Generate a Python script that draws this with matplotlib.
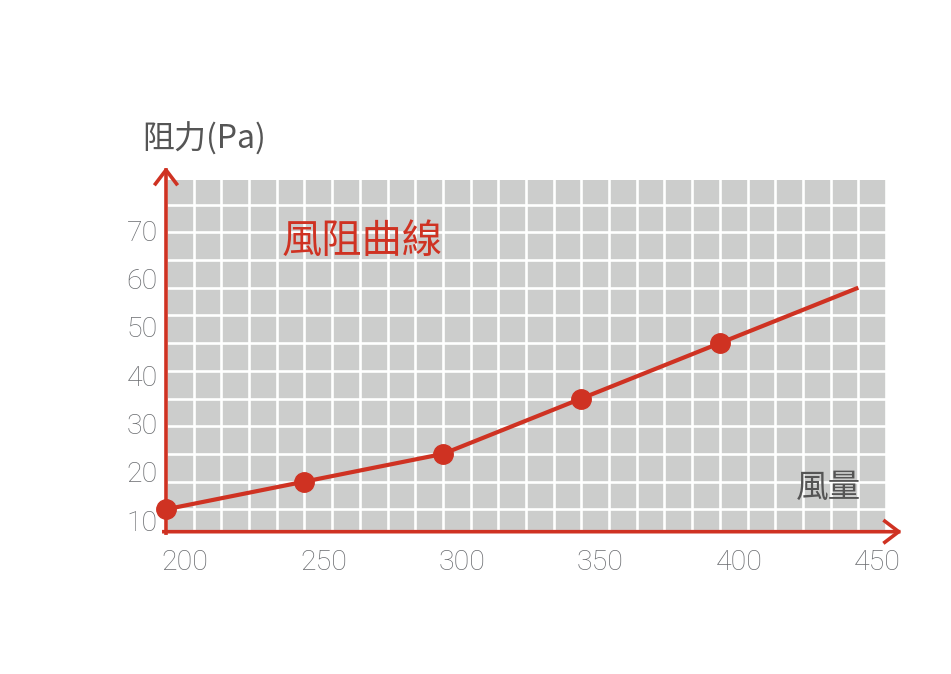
import matplotlib
matplotlib.use("Agg")
import matplotlib.pyplot as plt
from matplotlib.ticker import MultipleLocator
from matplotlib.transforms import ScaledTranslation

# ---- data ----
airflow = [200, 250, 300, 350, 400, 450]
resistance = [10, 15, 20, 30, 40, 50]
marker_count = 5
x_ticks = [200, 250, 300, 350, 400, 450]
y_ticks = [10, 20, 30, 40, 50, 60, 70]
title_text = "風阻曲線"
y_title = "阻力(Pa)"
x_title = "風量"

RED = "#cf3222"
GRAY_BG = "#cccdcc"
LABEL_GRAY = "#696b6f"
DARK = "#555555"
CJK = ["Noto Sans CJK TC", "DejaVu Sans"]
NUM = ["Roboto", "DejaVu Sans"]

W, H = 951, 674
fig = plt.figure(figsize=(W / 100, H / 100), dpi=100)
L, R, T, B = 166, 886, 180, 531.7
ax = fig.add_axes([L / W, 1 - B / H, (R - L) / W, (B - T) / H])
ax.set_facecolor(GRAY_BG)
ax.set_xlim(200, 460)
ax.set_ylim(5.96, 69.44)

# grid
ax.xaxis.set_minor_locator(MultipleLocator(10))
ax.yaxis.set_major_locator(MultipleLocator(5))
ax.set_xticks(x_ticks)
ax.grid(True, which="both", color="white", linewidth=1.9)
ax.set_axisbelow(True)
for s in ax.spines.values():
    s.set_visible(False)
ax.tick_params(axis="both", which="both", length=0)
ax.tick_params(axis="y", labelleft=False)
ax.tick_params(axis="x", labelsize=20.5, labelcolor=LABEL_GRAY, pad=12.5)
offset = ScaledTranslation(19 / 100, 0, fig.dpi_scale_trans)
for lab in ax.get_xticklabels():
    lab.set_fontfamily(NUM)
    lab.set_fontweight("light")
    lab.set_transform(lab.get_transform() + offset)

# y labels on a twin axis with its own scale
ax2 = ax.twinx()
ax2.set_ylim(7.58, 80.35)
ax2.set_yticks(y_ticks)
ax2.yaxis.tick_left()
for s in ax2.spines.values():
    s.set_visible(False)
ax2.tick_params(axis="y", length=0, pad=5.8, labelsize=20.5, labelcolor=LABEL_GRAY)
for lab in ax2.get_yticklabels():
    lab.set_fontfamily(NUM)
    lab.set_fontweight("light")

# axes arrows
arrow_kw = dict(arrowstyle="->,head_length=0.5,head_width=0.38", color=RED,
                lw=2.6, mutation_scale=20, shrinkA=0, shrinkB=0,
                capstyle="projecting")
ax.annotate("", xy=(0, 1.037), xytext=(0, -0.004), xycoords="axes fraction",
            textcoords="axes fraction", arrowprops=arrow_kw, zorder=5,
            annotation_clip=False)
ax.annotate("", xy=(1.0218, 0), xytext=(-0.003, 0), xycoords="axes fraction",
            textcoords="axes fraction", arrowprops=arrow_kw, zorder=5,
            annotation_clip=False)

# data line
ax.plot(airflow, resistance, color=RED, lw=3, zorder=6, clip_on=False,
        solid_capstyle="butt")
ax.plot(airflow[:marker_count], resistance[:marker_count], "o", color=RED,
        markersize=14, zorder=7, clip_on=False)

# texts
fig.text(204 / W, 1 - 139 / H, y_title, fontsize=23, color=DARK,
         family=CJK, ha="center", va="center")
fig.text(362 / W, 1 - 241 / H, title_text, fontsize=29, color=RED,
         family=CJK, ha="center", va="center")
fig.text(828 / W, 1 - 488 / H, x_title, fontsize=23.5, color=DARK,
         family=CJK, ha="center", va="center")

fig.savefig("out.png", dpi=100)
